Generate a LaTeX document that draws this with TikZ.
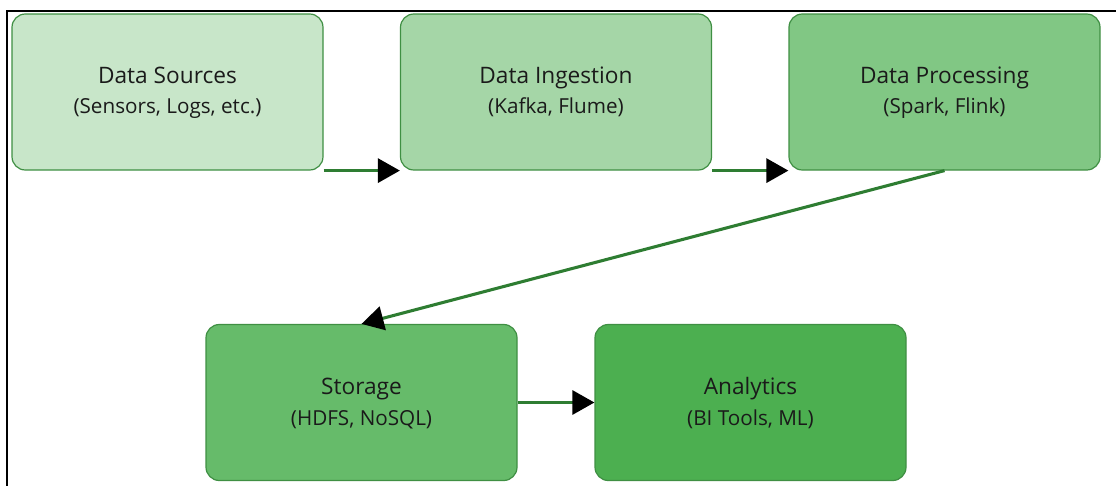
\documentclass[tikz,border=0pt]{standalone}
\usepackage{fontspec}
\setmainfont{Open Sans}
\usetikzlibrary{arrows.meta,calc}

\definecolor{srcfill}{HTML}{C8E6C9}
\definecolor{ingfill}{HTML}{A5D6A7}
\definecolor{procfill}{HTML}{81C784}
\definecolor{storfill}{HTML}{66BB6A}
\definecolor{anafill}{HTML}{4CAF50}
\definecolor{boxline}{HTML}{3F8F43}
\definecolor{flowline}{HTML}{2E7D32}
\definecolor{txt}{HTML}{1A1A1A}

\tikzset{
  stagebox/.style={draw=boxline, line width=0.9pt, rounded corners=10pt,
    minimum width=233.25pt, minimum height=117pt, inner sep=0pt},
  titletext/.style={anchor=base, text=txt, font=\fontsize{17}{20}\selectfont, inner sep=0pt},
  subtext/.style={anchor=base, text=txt, font=\fontsize{15.5}{18}\selectfont, inner sep=0pt},
  flow/.style={draw=flowline, line width=2.3pt,
    -{Triangle[length=16.5pt, width=18pt, color=black, fill=black]}},
  framerule/.style={draw=black, line width=1.6pt}
}

\begin{document}
\begin{tikzpicture}[x=0.75pt, y=-0.75pt]
  \useasboundingbox (0,0) rectangle (1116,486);

  % outer frame: top and left rules
  \coordinate (ftr) at (1116,11);
  \coordinate (ftl) at (7,11);
  \coordinate (fbl) at (7,486);
  \draw[framerule] (ftr) -- (ftl) -- (fbl);

  % pipeline stages
  \node[stagebox, fill=srcfill]  (src)  at (167.5,92)   {};
  \node[stagebox, fill=ingfill]  (ing)  at (556,92)     {};
  \node[stagebox, fill=procfill] (proc) at (944.5,92)   {};
  \node[stagebox, fill=storfill] (stor) at (361.5,402.5) {};
  \node[stagebox, fill=anafill]  (ana)  at (750.5,402.5) {};

  % stage labels
  \node[titletext] (srcT)  at ($(src.center)+(0,-8.5)$)  {Data Sources};
  \node[subtext]   (srcS)  at ($(src.center)+(0,21.5)$)  {(Sensors, Logs, etc.)};
  \node[titletext] (ingT)  at ($(ing.center)+(0,-8.5)$)  {Data Ingestion};
  \node[subtext]   (ingS)  at ($(ing.center)+(0,21.5)$)  {(Kafka, Flume)};
  \node[titletext] (procT) at ($(proc.center)+(0,-8.5)$) {Data Processing};
  \node[subtext]   (procS) at ($(proc.center)+(0,21.5)$) {(Spark, Flink)};
  \node[titletext] (storT) at ($(stor.center)+(0,-8.5)$) {Storage};
  \node[subtext]   (storS) at ($(stor.center)+(0,23)$)   {(HDFS, NoSQL)};
  \node[titletext] (anaT)  at ($(ana.center)+(0,-8.5)$)  {Analytics};
  \node[subtext]   (anaS)  at ($(ana.center)+(0,23)$)   {(BI Tools, ML)};

  % data flow
  \draw[flow] (src.south east) -- (ing.south west);
  \draw[flow] (ing.south east) -- (proc.south west);
  \draw[flow] (proc.south) -- (stor.north);
  \draw[flow] (stor.east) -- (ana.west);
\end{tikzpicture}
\end{document}
